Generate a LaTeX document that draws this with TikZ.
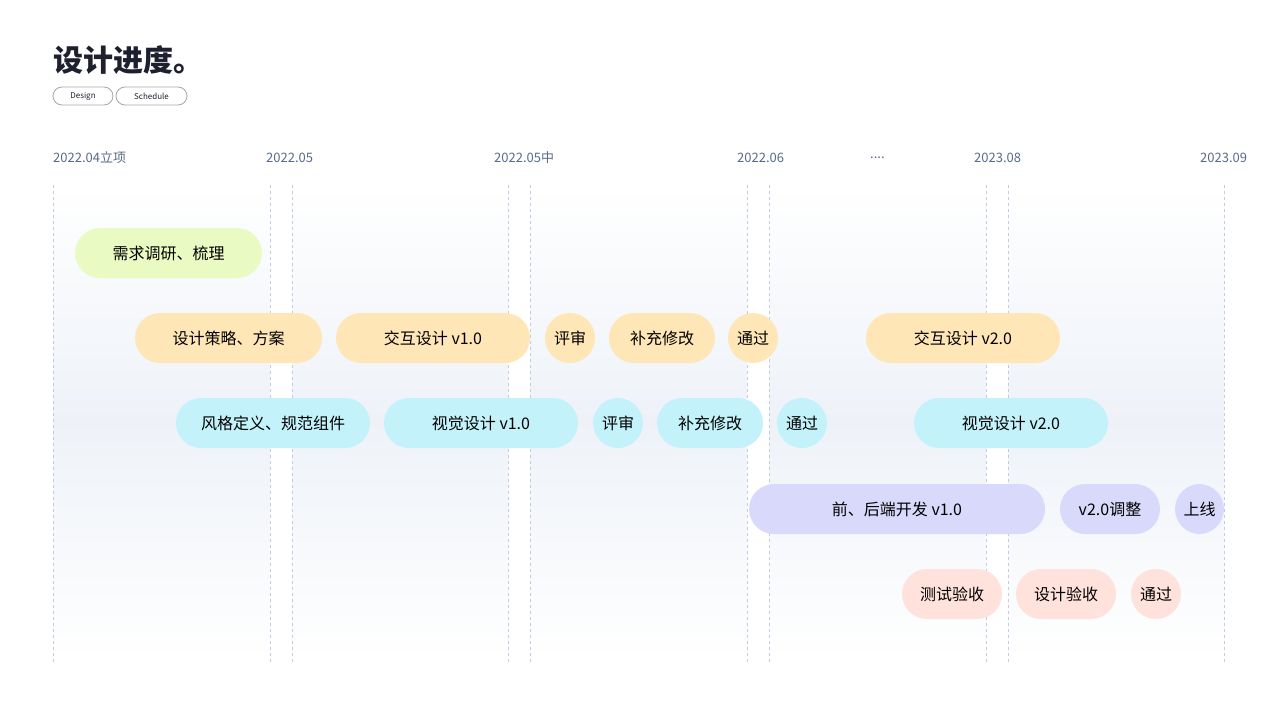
\documentclass[tikz,border=0pt]{standalone}
\usepackage{fontspec}
\setmainfont{Noto Sans CJK SC}
\definecolor{titlec}{HTML}{1E2030}
\definecolor{datec}{HTML}{5A6A8A}
\definecolor{panelc}{HTML}{EEF2F8}
\definecolor{dashc}{HTML}{C5CAE0}
\definecolor{greenc}{HTML}{E9FBC2}
\definecolor{orangec}{HTML}{FFE6B6}
\definecolor{cyanc}{HTML}{C3F2FB}
\definecolor{lavc}{HTML}{D9DAFB}
\definecolor{pinkc}{HTML}{FFE2DB}
\tikzset{
  pill/.style={rectangle, rounded corners=25pt, minimum height=50pt, inner sep=0pt, font=\fontsize{16}{16}\selectfont, text=black},
  tag/.style={rectangle, rounded corners=9pt, draw=gray!70, line width=0.8pt, minimum height=18pt, inner sep=0pt, font=\fontsize{8}{8}\selectfont, text=titlec},
  date/.style={anchor=west, font=\fontsize{13}{13}\selectfont, text=datec, inner sep=0pt},
  grid/.style={dashc, dashed, line width=0.8pt}
}
\begin{document}
\begin{tikzpicture}[x=1pt, y=-1pt]
  \useasboundingbox[fill=white] (0,0) rectangle (1280,720);
  % panels
  \foreach \a/\b in {53/270, 292/508, 530/747, 769/986, 1008/1224} {
    \shade[top color=white, bottom color=panelc] (\a,185) rectangle (\b,420);
    \shade[top color=panelc, bottom color=white] (\a,420) rectangle (\b,662);
  }
  \foreach \x in {53, 270, 292, 508, 530, 747, 769, 986, 1008, 1224}
    \draw[grid] (\x,185) -- (\x,662);
  % title
  \node[anchor=west, inner sep=0pt, font=\fontsize{30}{30}\selectfont\bfseries, text=titlec] (title) at (53,60) {设计进度。};
  \node[tag, minimum width=60pt] (design) at (83,96) {Design};
  \node[tag, minimum width=71pt] (schedule) at (151.5,96) {Schedule};
  % dates
  \node[date] (d1) at (53,158) {2022.04立项};
  \node[date] (d2) at (266,158) {2022.05};
  \node[date] (d3) at (494,158) {2022.05中};
  \node[date] (d4) at (737,158) {2022.06};
  \node[date] (d5) at (870,158) {....};
  \node[date] (d6) at (974,158) {2023.08};
  \node[date] (d7) at (1200,158) {2023.09};
  % bars
  \foreach \n/\c/\a/\b/\y/\t in {
      r1a/greenc/75/262/253/需求调研、梳理,
      r2a/orangec/135/322/338/设计策略、方案,
      r2b/orangec/336/530/338/交互设计 v1.0,
      r2c/orangec/545/595/338/评审,
      r2d/orangec/609/715/338/补充修改,
      r2e/orangec/728/778/338/通过,
      r2f/orangec/866/1060/338/交互设计 v2.0,
      r3a/cyanc/176/370/423/风格定义、规范组件,
      r3b/cyanc/384/578/423/视觉设计 v1.0,
      r3c/cyanc/593/643/423/评审,
      r3d/cyanc/657/763/423/补充修改,
      r3e/cyanc/777/827/423/通过,
      r3f/cyanc/914/1108/423/视觉设计 v2.0,
      r4a/lavc/749/1045/509/前、后端开发 v1.0,
      r4b/lavc/1060/1160/509/v2.0调整,
      r4c/lavc/1175/1224/509/上线,
      r5a/pinkc/902/1002/594/测试验收,
      r5b/pinkc/1016/1116/594/设计验收,
      r5c/pinkc/1131/1181/594/通过}
    \node[pill, fill=\c, minimum width={(\b-\a)*1pt}] (\n) at ({(\a+\b)/2},\y) {\t};
\end{tikzpicture}
\end{document}
